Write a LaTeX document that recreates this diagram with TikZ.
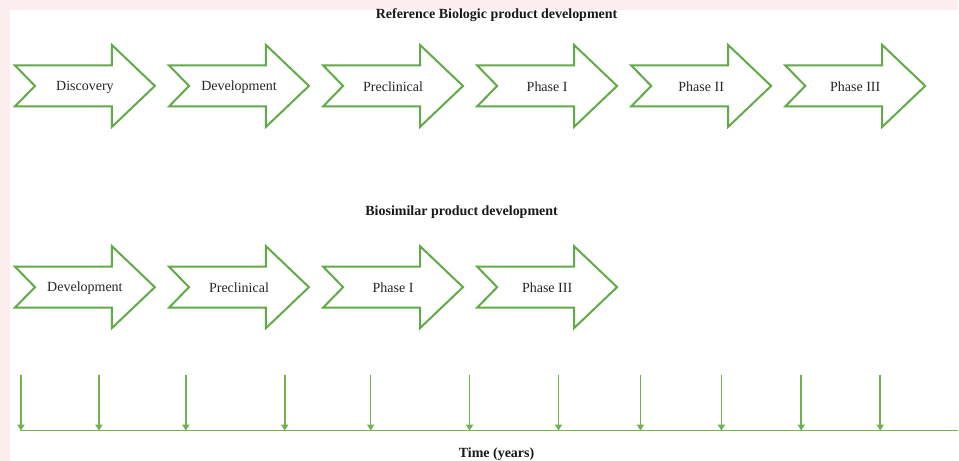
\documentclass[tikz,border=0pt]{standalone}
\usepackage{fontspec}
\setmainfont{Liberation Serif}
\usetikzlibrary{arrows.meta,positioning,calc}
\definecolor{stagegreen}{RGB}{98,170,72}
\definecolor{axisgreen}{RGB}{112,178,82}
\definecolor{pagepink}{RGB}{252,238,238}

\begin{document}
\begin{tikzpicture}[
  x=1bp, y=1bp,
  font=\fontsize{14bp}{17bp}\selectfont,
  stage/.style={minimum width=140bp, minimum height=82bp, inner sep=0pt,
    text=black!85},
  stageline/.style={draw=stagegreen, line width=2bp, line join=miter},
  rowtitle/.style={font=\fontsize{14bp}{17bp}\selectfont\bfseries,
    inner sep=0pt, text=black!90},
  axisline/.style={draw=axisgreen, line width=1.7bp},
  yeartick/.style={-{Triangle[width=7bp,length=6bp]}, draw=axisgreen,
    fill=axisgreen, line width=1.6bp}
]
\fill[pagepink] (0,0) rectangle (959,-461);
\fill[white] (10,-10) rectangle (959,-461);

\node[rowtitle] (reftitle) at (497,-15) {Reference Biologic product development};
\node[stage] (rdisc) at (85,-87) {Discovery};
\node[stage, right=13.8bp of rdisc] (rdev) {Development};
\node[stage, right=13.8bp of rdev] (rpre) {Preclinical};
\node[stage, right=13.8bp of rpre] (rph1) {Phase I};
\node[stage, right=13.8bp of rph1] (rph2) {Phase II};
\node[stage, right=13.8bp of rph2] (rph3) {Phase III};

\node[rowtitle] (biotitle) at (462,-212) {Biosimilar product development};
\node[stage, below=119bp of rdisc] (bdev) {Development};
\node[stage, right=13.8bp of bdev] (bpre) {Preclinical};
\node[stage, right=13.8bp of bpre] (bph1) {Phase I};
\node[stage, right=13.8bp of bph1] (bph3) {Phase III};

\foreach \n in {rdisc,rdev,rpre,rph1,rph2,rph3,bdev,bpre,bph1,bph3}
  \draw[stageline] ($(\n.center)+(-70,21.5)$) -- ++(97,0) -- ++(0,20.5)
    -- ($(\n.center)+(70,1)$) -- ($(\n.center)+(27,-40)$) -- ++(0,20.5)
    -- ($(\n.center)+(-70,-19.5)$) -- ($(\n.center)+(-50,1)$) -- cycle;

\coordinate (axisL) at (20,-431);
\coordinate (axisR) at (959,-431);
\draw[axisline] (axisL) -- (axisR);
\foreach \x [count=\i] in {21,99,186,285,371,470,559,641,722,802,881}{
  \coordinate (yr\i) at (\x,-375);
  \draw[yeartick] (yr\i) -- (yr\i |- axisL);
}
\node[rowtitle] (timelabel) at (497,-455) {Time (years)};
\end{tikzpicture}
\end{document}
